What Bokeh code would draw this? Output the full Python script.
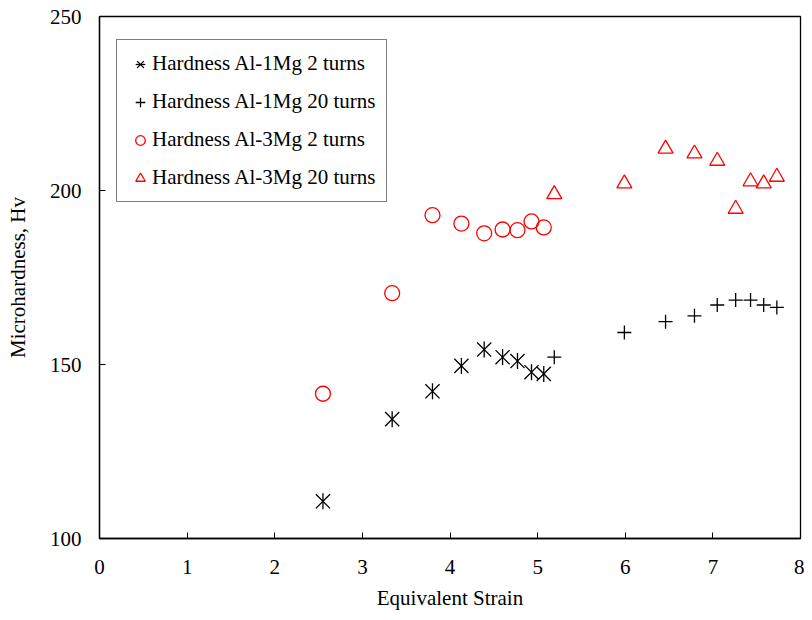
from bokeh.plotting import figure
from bokeh.models import Range1d, Legend, LegendItem, FixedTicker
from bokeh.embed import file_html
from bokeh.resources import INLINE
import math

# ---- data ----
strain_2t = [2.55, 3.34, 3.80, 4.13, 4.39, 4.60, 4.77, 4.93, 5.07]
strain_20t = [5.19, 5.99, 6.46, 6.79, 7.05, 7.26, 7.43, 7.58, 7.73]
al1mg_2t = [110.7, 134.3, 142.3, 149.6, 154.3, 152.1, 151.0, 147.8, 147.3]
al1mg_20t = [152.1, 159.2, 162.3, 164.0, 167.1, 168.5, 168.5, 167.1, 166.4]
al3mg_2t = [141.6, 170.5, 192.9, 190.5, 187.7, 188.8, 188.6, 191.1, 189.4]
al3mg_20t = [198.9, 202.0, 212.0, 210.6, 208.5, 194.7, 202.6, 202.0, 203.9]
x_ticks = [0, 1, 2, 3, 4, 5, 6, 7, 8]
y_ticks = [100, 150, 200, 250]
labels = ["Hardness Al-1Mg 2 turns", "Hardness Al-1Mg 20 turns",
          "Hardness Al-3Mg 2 turns", "Hardness Al-3Mg 20 turns"]

FONT = "Liberation Serif"
FS = "21px"

p = figure(width=804, height=612, x_range=Range1d(0, 8), y_range=Range1d(100, 250),
           output_backend="svg", toolbar_location=None,
           min_border_left=99, min_border_top=16, min_border_right=4, min_border_bottom=5)

p.xgrid.visible = False
p.ygrid.visible = False
p.outline_line_color = "black"
p.outline_line_width = 1.3
p.background_fill_color = "white"
p.border_fill_color = "white"

p.xaxis.ticker = FixedTicker(ticks=x_ticks)
p.yaxis.ticker = FixedTicker(ticks=y_ticks)
for ax in (p.xaxis[0], p.yaxis[0]):
    ax.major_tick_in = 6
    ax.major_tick_out = 0
    ax.minor_tick_line_color = None
    ax.axis_line_color = "black"
    ax.axis_line_width = 1.3
    ax.major_tick_line_width = 1.0
    ax.major_label_text_font = FONT
    ax.major_label_text_font_size = FS
    ax.major_label_text_color = "black"
    ax.axis_label_text_font = FONT
    ax.axis_label_text_font_size = FS
    ax.axis_label_text_font_style = "normal"
    ax.axis_label_text_color = "black"

p.xaxis.axis_label = "Equivalent Strain"
p.yaxis.axis_label = "Microhardness, Hv"
p.xaxis.major_label_standoff = 21
p.xaxis.axis_label_standoff = 9
p.yaxis.major_label_standoff = 18
p.yaxis.axis_label_standoff = 17

LW = 1.3
r1a = p.scatter(strain_2t, al1mg_2t, marker="x", size=20, line_color="black", line_width=LW)
r1b = p.scatter(strain_2t, al1mg_2t, marker="dash", angle=math.pi / 2, size=16,
                line_color="black", line_width=LW)
r2 = p.scatter(strain_20t, al1mg_20t, marker="cross", size=14, line_color="black", line_width=LW)
r3 = p.scatter(strain_2t, al3mg_2t, marker="circle", size=15, line_color="red",
               fill_color=None, line_width=LW)
r4 = p.scatter(strain_20t, al3mg_20t, marker="triangle", size=15, line_color="red",
               fill_color=None, line_width=LW)

legend = Legend(items=[
    LegendItem(label=labels[0], renderers=[r1a, r1b]),
    LegendItem(label=labels[1], renderers=[r2]),
    LegendItem(label=labels[2], renderers=[r3]),
    LegendItem(label=labels[3], renderers=[r4]),
], location=(17, 336))
legend.label_text_font = FONT
legend.label_text_font_size = FS
legend.label_text_color = "black"
legend.border_line_color = "black"
legend.border_line_width = 1.3
legend.background_fill_color = "white"
legend.background_fill_alpha = 1.0
legend.padding = 11
legend.spacing = 13
legend.glyph_width = 24
legend.glyph_height = 24
legend.label_height = 20
legend.label_standoff = 0
legend.margin = 0
p.add_layout(legend, "center")

open("out.html", "w").write(file_html(p, INLINE))
